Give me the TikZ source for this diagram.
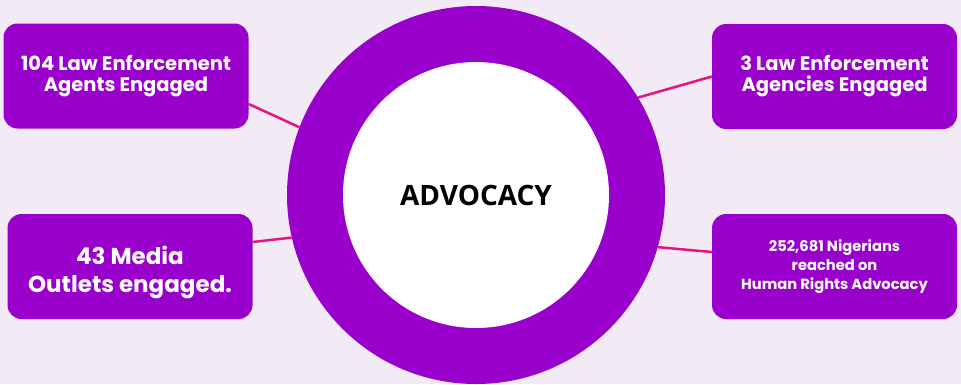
\documentclass[tikz,border=0pt]{standalone}
\usepackage{fontspec}
\setmainfont{Poppins}
\newfontfamily\advfont{Open Sans}
\definecolor{bg}{HTML}{F2EAF4}
\definecolor{purp}{HTML}{9900CC}
\definecolor{pinkline}{HTML}{E8137F}
\begin{document}
\begin{tikzpicture}[x=1pt,y=-1pt,
  box/.style={fill=purp, rounded corners=14pt, text=white, align=center,
    minimum width=245pt, minimum height=105pt, inner sep=0pt},
  boxtext/.style={text=white, align=center, inner sep=0pt},
  conn/.style={draw=pinkline, line width=2.5pt}]
\fill[bg] (0,0) rectangle (961,384);
\useasboundingbox (0,0) rectangle (961,384);
\node[circle, fill=purp, minimum size=378pt, inner sep=0pt] (ring) at (476,195) {};
\node[circle, fill=white, minimum size=266pt, inner sep=0pt] (core) at (476,195)
  {\advfont\bfseries\fontsize{28}{30}\selectfont ADVOCACY};
\node[box, font=\bfseries\fontsize{19.5}{21}\selectfont] (b1) at (126,76) {104 Law Enforcement\\Agents Engaged};
\node[box] (b2) at (130,266.5) {};
\node[boxtext, font=\bfseries\fontsize{23}{28}\selectfont] (b2t) at ([yshift=-6pt]b2.center) {43 Media\\Outlets engaged.};
\node[box, font=\bfseries\fontsize{19.5}{21}\selectfont] (b3) at (834.5,76.5) {3 Law Enforcement\\Agencies Engaged};
\node[box, font=\bfseries\fontsize{14.7}{19}\selectfont] (b4) at (834.5,266.5) {252,681 Nigerians\\reached on\\Human Rights Advocacy};
\draw[conn] ([yshift=-28pt]b1.east) -- (ring.159);
\draw[conn] ([yshift=24.5pt]b2.east) -- (ring.193.4);
\draw[conn] (b3.west) -- (ring.31);
\draw[conn] ([yshift=14.5pt]b4.west) -- (ring.-16.5);
\end{tikzpicture}
\end{document}
